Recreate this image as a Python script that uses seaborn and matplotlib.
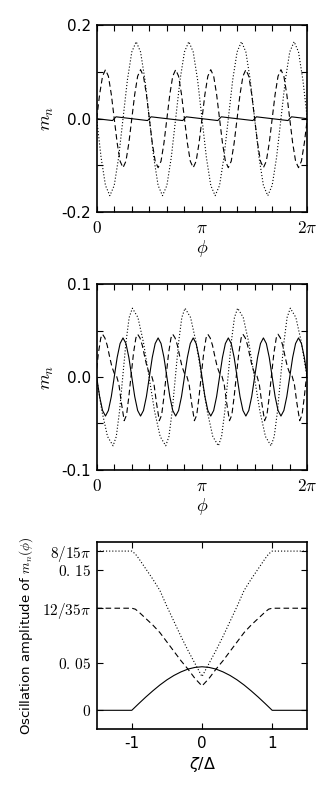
import numpy as np
import matplotlib
matplotlib.use("Agg")
import matplotlib.pyplot as plt
import seaborn as sns

# --- панель 1: m_n(phi), phi в градусах ---
phi_dot1 = np.arange(0, 360.1, 7.5)
m_dot1 = [0.0, -0.083, -0.143, -0.165, -0.143, -0.083, 0.0, 0.083, 0.143, 0.165, 0.143, 0.083,
          0.0, -0.083, -0.143, -0.165, -0.143, -0.083, 0.0, 0.083, 0.143, 0.165, 0.143, 0.083,
          0.0, -0.083, -0.143, -0.165, -0.143, -0.083, 0.0, 0.083, 0.143, 0.165, 0.143, 0.083,
          0.0, -0.083, -0.143, -0.165, -0.143, -0.083, 0.0, 0.083, 0.143, 0.165, 0.143, 0.083,
          0.0]

phi_dash1 = np.arange(0, 360.1, 5)
m_dash1 = [0.0, 0.052, 0.091, 0.105, 0.091, 0.052, 0.0, -0.052, -0.091, -0.105, -0.091, -0.052,
           0.0, 0.052, 0.091, 0.105, 0.091, 0.052, 0.0, -0.052, -0.091, -0.105, -0.091, -0.052,
           0.0, 0.052, 0.091, 0.105, 0.091, 0.052, 0.0, -0.052, -0.091, -0.105, -0.091, -0.052,
           0.0, 0.052, 0.091, 0.105, 0.091, 0.052, 0.0, -0.052, -0.091, -0.105, -0.091, -0.052,
           0.0, 0.052, 0.091, 0.105, 0.091, 0.052, 0.0, -0.052, -0.091, -0.105, -0.091, -0.052,
           0.0, 0.052, 0.091, 0.105, 0.091, 0.052, 0.0, -0.052, -0.091, -0.105, -0.091, -0.052,
           0.0]

phi_sol1 = [0, 27, 33, 87, 93, 147, 153, 207, 213, 267, 273, 327, 333, 360]
m_sol1 = [0.0, -0.004, 0.004, -0.004, 0.004, -0.004, 0.004,
          -0.004, 0.004, -0.004, 0.004, -0.004, 0.004, 0.0]

# --- панель 2 ---
phi_sol2 = np.arange(0, 360.1, 5)
m_sol2 = [0.0, -0.021, -0.036, -0.042, -0.036, -0.021, 0.0, 0.021, 0.036, 0.042, 0.036, 0.021,
          0.0, -0.021, -0.036, -0.042, -0.036, -0.021, 0.0, 0.021, 0.036, 0.042, 0.036, 0.021,
          0.0, -0.021, -0.036, -0.042, -0.036, -0.021, 0.0, 0.021, 0.036, 0.042, 0.036, 0.021,
          0.0, -0.021, -0.036, -0.042, -0.036, -0.021, 0.0, 0.021, 0.036, 0.042, 0.036, 0.021,
          0.0, -0.021, -0.036, -0.042, -0.036, -0.021, 0.0, 0.021, 0.036, 0.042, 0.036, 0.021,
          0.0, -0.021, -0.036, -0.042, -0.036, -0.021, 0.0, 0.021, 0.036, 0.042, 0.036, 0.021,
          0.0]

phi_dot2 = [0, 9, 18.5,
            28, 33.5, 39, 44.5, 50, 55.5, 61, 70.5, 80, 89.5, 99, 108.5,
            118, 123.5, 129, 134.5, 140, 145.5, 151, 160.5, 170, 179.5, 189, 198.5,
            208, 213.5, 219, 224.5, 230, 235.5, 241, 250.5, 260, 269.5, 279, 288.5,
            298, 303.5, 309, 314.5, 320, 325.5, 331, 340.5, 350, 359.5,
            360]
m_dot2 = [-0.002, -0.037, -0.064,
          -0.074, -0.064, -0.037, 0.0, 0.037, 0.064, 0.074, 0.064, 0.037, 0.0, -0.037, -0.064,
          -0.074, -0.064, -0.037, 0.0, 0.037, 0.064, 0.074, 0.064, 0.037, 0.0, -0.037, -0.064,
          -0.074, -0.064, -0.037, 0.0, 0.037, 0.064, 0.074, 0.064, 0.037, 0.0, -0.037, -0.064,
          -0.074, -0.064, -0.037, 0.0, 0.037, 0.064, 0.074, 0.064, 0.037, 0.0,
          -0.002]

phi_dash2 = [0, 3, 7,
             10, 14, 18, 22, 26, 30, 34, 38, 42, 47, 51, 55, 59, 63, 67,
             70, 74, 78, 82, 86, 90, 94, 98, 102, 107, 111, 115, 119, 123, 127,
             130, 134, 138, 142, 146, 150, 154, 158, 162, 167, 171, 175, 179, 183, 187,
             190, 194, 198, 202, 206, 210, 214, 218, 222, 227, 231, 235, 239, 243, 247,
             250, 254, 258, 262, 266, 270, 274, 278, 282, 287, 291, 295, 299, 303, 307,
             310, 314, 318, 322, 326, 330, 334, 338, 342, 347, 351, 355, 359,
             360]
m_dash2 = [0.009, 0.026, 0.042,
           0.046, 0.042, 0.034, 0.022, 0.011, 0.004, 0.001, -0.008, -0.027, -0.047, -0.041, -0.021, 0.003, 0.026, 0.042,
           0.046, 0.042, 0.034, 0.022, 0.011, 0.004, 0.001, -0.008, -0.027, -0.047, -0.041, -0.021, 0.003, 0.026, 0.042,
           0.046, 0.042, 0.034, 0.022, 0.011, 0.004, 0.001, -0.008, -0.027, -0.047, -0.041, -0.021, 0.003, 0.026, 0.042,
           0.046, 0.042, 0.034, 0.022, 0.011, 0.004, 0.001, -0.008, -0.027, -0.047, -0.041, -0.021, 0.003, 0.026, 0.042,
           0.046, 0.042, 0.034, 0.022, 0.011, 0.004, 0.001, -0.008, -0.027, -0.047, -0.041, -0.021, 0.003, 0.026, 0.042,
           0.046, 0.042, 0.034, 0.022, 0.011, 0.004, 0.001, -0.008, -0.027, -0.047, -0.041, -0.021, 0.003,
           0.009]

# --- панель 3: амплитуда колебаний от zeta/Delta ---
zeta = [-1.5, -1.0, -0.95, -0.9, -0.8, -0.7, -0.6, -0.5, -0.4, -0.3, -0.2, -0.1, 0.0,
        0.1, 0.2, 0.3, 0.4, 0.5, 0.6, 0.7, 0.8, 0.9, 0.95, 1.0, 1.5]
amp_dot = [0.170, 0.170, 0.167, 0.162, 0.151, 0.140, 0.128, 0.111, 0.095, 0.079, 0.064, 0.050, 0.036,
           0.050, 0.064, 0.079, 0.095, 0.111, 0.128, 0.140, 0.151, 0.162, 0.167, 0.170, 0.170]
amp_dash = [0.109, 0.109, 0.108, 0.105, 0.098, 0.091, 0.083, 0.073, 0.063, 0.053, 0.044, 0.034, 0.026,
            0.034, 0.044, 0.053, 0.063, 0.073, 0.083, 0.091, 0.098, 0.105, 0.108, 0.109, 0.109]
amp_sol = [0.0, 0.0, 0.0036, 0.0072, 0.0142, 0.0208, 0.0270, 0.0325, 0.0372, 0.0410, 0.0440, 0.0458, 0.0465,
           0.0458, 0.0440, 0.0410, 0.0372, 0.0325, 0.0270, 0.0208, 0.0142, 0.0072, 0.0036, 0.0, 0.0]

# оформление
sns.set_style("ticks")
plt.rcParams.update({
    "font.family": ["DejaVu Sans"],
    "mathtext.fontset": "cm",
    "axes.edgecolor": "black",
    "axes.linewidth": 1.2,
    "text.color": "black",
    "axes.labelcolor": "black",
    "xtick.color": "black",
    "ytick.color": "black",
    "xtick.direction": "in",
    "ytick.direction": "in",
    "xtick.top": True,
    "ytick.right": True,
    "xtick.major.size": 4.5,
    "ytick.major.size": 4.5,
    "xtick.major.width": 0.8,
    "ytick.major.width": 0.8,
})

DOT = (0, (1, 1.8))
DASH = (0, (5, 3))
LW = 0.8

fig = plt.figure(figsize=(3.34, 7.92), dpi=100)
ax1 = fig.add_axes([0.2895, 0.7323, 0.6305, 0.2357])
ax2 = fig.add_axes([0.2895, 0.4066, 0.6305, 0.2348])
ax3 = fig.add_axes([0.2895, 0.0795, 0.6305, 0.2365])

# панели 1 и 2
for ax, curves, ylim, yt, ytl in [
    (ax1, [(phi_dot1, m_dot1, DOT), (phi_dash1, m_dash1, DASH), (phi_sol1, m_sol1, "-")],
     0.2, [-0.2, -0.1, 0.0, 0.1, 0.2], ["-0.2", "", "0.0", "", "0.2"]),
    (ax2, [(phi_dot2, m_dot2, DOT), (phi_dash2, m_dash2, DASH), (phi_sol2, m_sol2, "-")],
     0.1, [-0.1, -0.05, 0.0, 0.05, 0.1], ["-0.1", "", "0.0", "", "0.1"]),
]:
    for x, y, ls in curves:
        sns.lineplot(x=np.deg2rad(x), y=y, ax=ax, color="black", linestyle=ls, linewidth=LW)
    ax.set_xlim(0, 2 * np.pi)
    ax.set_ylim(-ylim, ylim)
    xt = np.arange(13) * np.pi / 6
    xtl = [""] * 13
    xtl[0], xtl[6], xtl[12] = r"$0$", r"$\pi$", r"$2\pi$"
    ax.set_xticks(xt)
    ax.set_xticklabels(xtl, fontsize=12.5)
    ax.set_yticks(yt)
    ax.set_yticklabels(ytl, fontsize=11)
    ax.tick_params(axis="x", pad=5)
    ax.tick_params(axis="y", pad=4)
    ax.set_xlabel(r"$\phi$", fontsize=13, labelpad=1)
    ax.set_ylabel(r"$m_n$", fontsize=13, labelpad=4)

# панель 3
sns.lineplot(x=zeta, y=amp_dot, ax=ax3, color="black", linestyle=DOT, linewidth=LW)
sns.lineplot(x=zeta, y=amp_dash, ax=ax3, color="black", linestyle=DASH, linewidth=LW)
sns.lineplot(x=zeta, y=amp_sol, ax=ax3, color="black", linestyle="-", linewidth=LW)
ax3.set_xlim(-1.5, 1.5)
ax3.set_ylim(-0.02, 0.18)
ax3.set_xticks([-1, 0, 1])
ax3.set_xticklabels(["-1", "0", "1"], fontsize=11)
ax3.set_yticks([8 / (15 * np.pi), 0.15, 12 / (35 * np.pi), 0.05, 0.0])
ax3.set_yticklabels([r"$8/15\pi$", r"$0.\,15$", r"$12/35\pi$", r"$0.\,05$", r"$0$"], fontsize=11)
ax3.tick_params(axis="x", pad=5)
ax3.tick_params(axis="y", pad=4)
ax3.set_xlabel(r"$\zeta/\Delta$", fontsize=11.5, labelpad=3, math_fontfamily="dejavusans")
ax3.set_ylabel(r"Oscillation amplitude of $m_n(\phi)$", fontsize=9.5, labelpad=5)

fig.savefig("out.png", dpi=100)
